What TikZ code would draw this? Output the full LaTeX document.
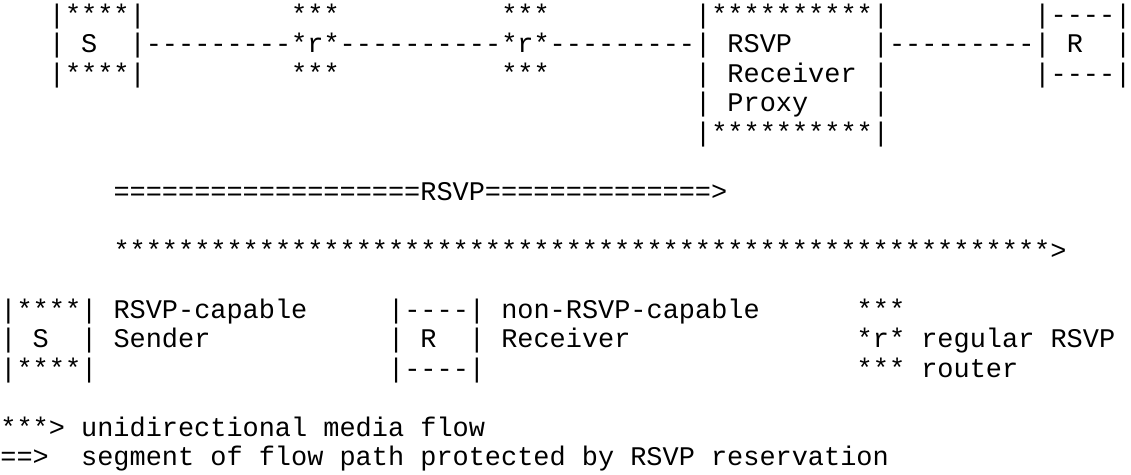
\documentclass[tikz,border=0pt]{standalone}
\usepackage{fontspec}
\setmonofont{Liberation Mono}

\begin{document}
\begin{tikzpicture}[
        x=8.0786pt, y=-14.75pt,
        every node/.style={anchor=base west, inner sep=0pt, yshift=3pt,
            font=\ttfamily\fontsize{13.46pt}{14.75pt}\selectfont}
    ]
    \useasboundingbox (0,0) rectangle (70,16.1017);

    % Sender
    \node (S1) at (3,1) {|****|};
    \node (S2) at (3,2) {| S~~|};
    \node (S3) at (3,3) {|****|};

    % Two regular RSVP routers
    \node (ra1) at (18,1) {***};
    \node (ra2) at (18,2) {*r*};
    \node (ra3) at (18,3) {***};
    \node (rb1) at (31,1) {***};
    \node (rb2) at (31,2) {*r*};
    \node (rb3) at (31,3) {***};

    % RSVP Receiver Proxy
    \node (P1) at (43,1) {|**********|};
    \node (P2) at (43,2) {| RSVP~~~~~|};
    \node (P3) at (43,3) {| Receiver |};
    \node (P4) at (43,4) {| Proxy~~~~|};
    \node (P5) at (43,5) {|**********|};

    % Receiver
    \node (R1) at (64,1) {|----|};
    \node (R2) at (64,2) {| R~~|};
    \node (R3) at (64,3) {|----|};

    % Links between them
    \node (SA) at (9,2) {---------};
    \node (AB) at (21,2) {----------};
    \node (BP) at (34,2) {---------};
    \node (PR) at (55,2) {---------};

    % Reservation and media flow
    \node (res) at (7,7) {===================RSVP==============>};
    \node (flow) at (7,9) {**********************************************************>};

    % Legend
    \node (kS1) at (0,11) {|****|};
    \node (kS2) at (0,12) {| S~~|};
    \node (kS3) at (0,13) {|****|};
    \node (kSa) at (7,11) {RSVP-capable};
    \node (kSb) at (7,12) {Sender};
    \node (kR1) at (24,11) {|----|};
    \node (kR2) at (24,12) {| R~~|};
    \node (kR3) at (24,13) {|----|};
    \node (kRa) at (31,11) {non-RSVP-capable};
    \node (kRb) at (31,12) {Receiver};
    \node (kr1) at (53,11) {***};
    \node (kr2) at (53,12) {*r* regular RSVP};
    \node (kr3) at (53,13) {*** router};
    \node (kflow) at (0,15) {***> unidirectional media flow};
    \node (kres) at (0,16) {==>~ segment of flow path protected by RSVP reservation};
\end{tikzpicture}
\end{document}
